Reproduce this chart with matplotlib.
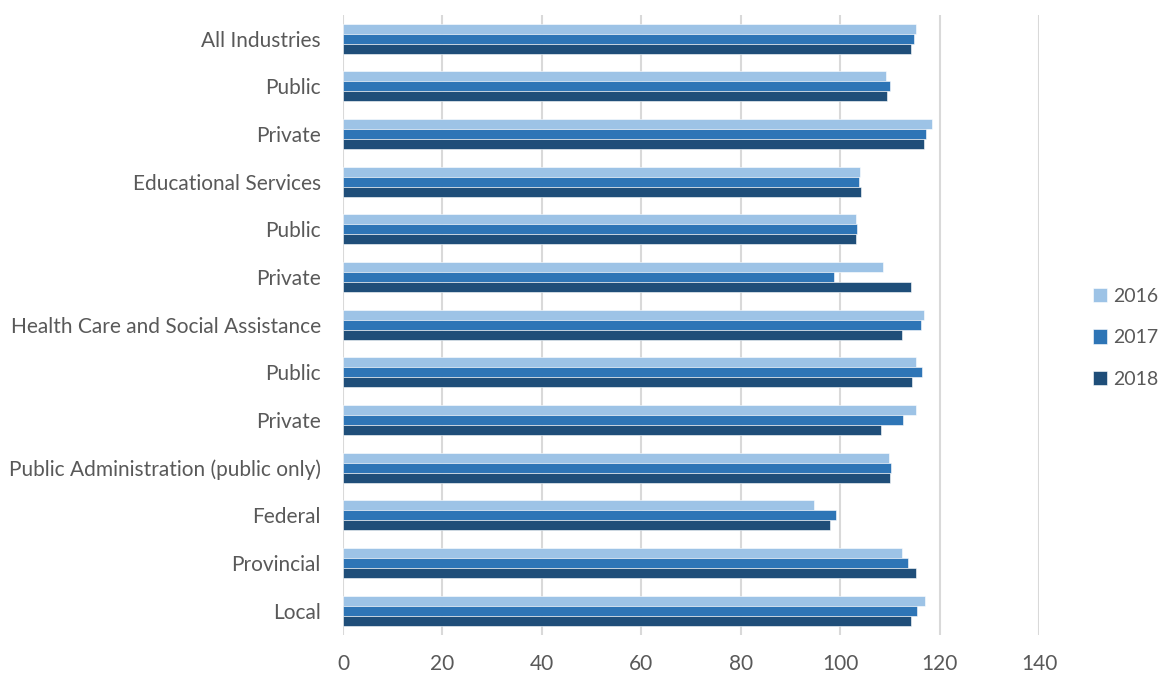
import numpy as np
import matplotlib.pyplot as plt

categories = ["All Industries", "Public", "Private", "Educational Services", "Public",
              "Private", "Health Care and Social Assistance", "Public", "Private",
              "Public Administration (public only)", "Federal", "Provincial", "Local"]
years = ["2016", "2017", "2018"]
v2016 = [115.2, 109.3, 118.4, 104.0, 103.2, 108.7, 116.9, 115.2, 115.2, 109.8, 94.8, 112.5, 117.1]
v2017 = [114.9, 110.1, 117.3, 103.8, 103.3, 98.8, 116.2, 116.4, 112.7, 110.3, 99.2, 113.7, 115.4]
v2018 = [114.3, 109.5, 116.8, 104.1, 103.1, 114.2, 112.5, 114.4, 108.2, 110.1, 98.0, 115.3, 114.2]
colors = ["#9DC3E6", "#2E75B6", "#1F4E79"]

plt.rcParams['font.family'] = ['Lato', 'DejaVu Sans']
text_color = "#595959"

fig = plt.figure(figsize=(11.59, 6.73), dpi=100)
ax = fig.add_axes([0.296, 0.057, 0.6005, 0.921])

y = np.arange(len(categories))
h = 0.21
for i, (vals, yr) in enumerate(zip([v2016, v2017, v2018], years)):
    ax.barh(y + (i - 1) * h, vals, height=h, color=colors[i], label=yr,
            edgecolor="white", linewidth=0.4, zorder=3)

ax.set_ylim(len(categories) - 0.5, -0.5)
ax.set_xlim(0, 140)
ax.set_xticks(np.arange(0, 141, 20))
ax.set_yticks(y)
ax.set_yticklabels(categories)
ax.tick_params(axis="both", length=0, labelsize=15, colors=text_color)
ax.tick_params(axis="x", pad=14)
ax.tick_params(axis="y", pad=16)
ax.grid(axis="x", color="#D9D9D9", linewidth=1.5, zorder=0)
for s in ax.spines.values():
    s.set_visible(False)

ax.legend(loc="center left", bbox_to_anchor=(1.077, 0.479), frameon=False,
          fontsize=14, labelcolor=text_color, handlelength=0.75, handleheight=0.75,
          handletextpad=0.3, labelspacing=1.25, borderpad=0, borderaxespad=0)

plt.savefig("out.png", dpi=100)
